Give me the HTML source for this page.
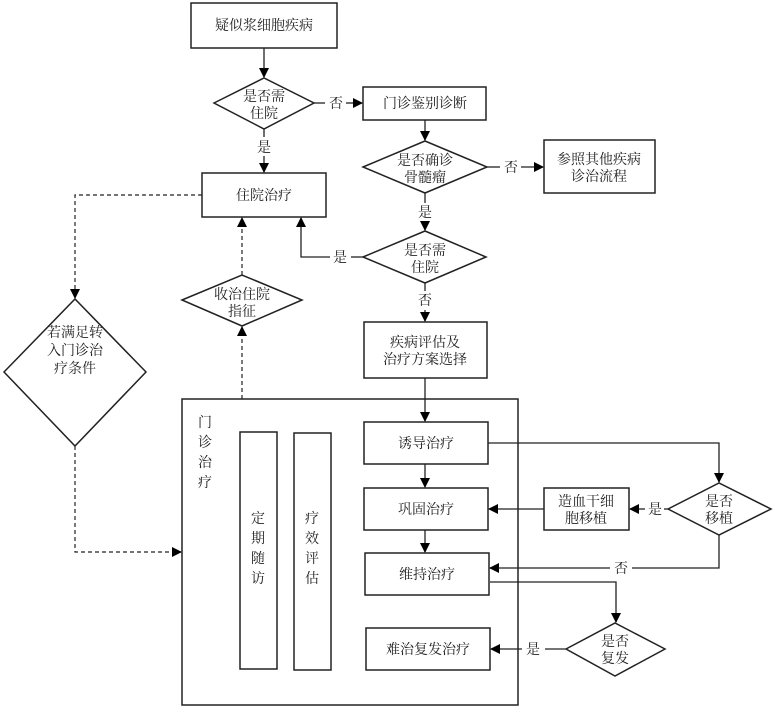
<!DOCTYPE html>
<html><head><meta charset="utf-8"><style>
html,body{margin:0;padding:0;background:#fff;}
svg text{font-family:"Liberation Serif","Noto Serif CJK SC","Noto Sans CJK SC",serif;font-size:14px;fill:#222;}
</style></head><body>
<svg width="775" height="709" viewBox="0 0 775 709" xmlns="http://www.w3.org/2000/svg">
<defs>
<marker id="a" markerWidth="10" markerHeight="10" refX="9" refY="5" orient="auto" markerUnits="userSpaceOnUse"><path d="M0,0 L10,5 L0,10 z" fill="#000"/></marker>
</defs>
<g fill="#fff" stroke="#222" stroke-width="1.5">
<rect x="191" y="3" width="146" height="45"/>
<polygon points="214,103 264,78 314,103 264,129"/>
<rect x="202" y="173" width="124" height="44"/>
<rect x="363" y="87" width="123" height="33"/>
<polygon points="363,167 425,141 487,167 425,193"/>
<rect x="544" y="140" width="111" height="53"/>
<polygon points="363,257 425,231 486,257 425,283"/>
<rect x="364" y="322" width="123" height="56"/>
<polygon points="4,372 75,299 146,372 75,446"/>
<polygon points="182,300 242,275 302,300 242,326"/>
<rect x="182" y="399" width="336" height="306"/>
<rect x="240" y="432" width="37" height="237"/>
<rect x="294" y="433" width="37" height="237"/>
<rect x="364" y="422" width="124" height="42"/>
<rect x="364" y="488" width="124" height="42"/>
<rect x="365" y="553" width="124" height="42"/>
<rect x="366" y="628" width="124" height="42"/>
<rect x="544" y="488" width="85" height="42"/>
<polygon points="668,509 719,483 771,509 719,535"/>
<polygon points="566,649 615,623 665,649 615,676"/>
</g>
<g fill="none" stroke="#222" stroke-width="1.3">
<line x1="264" y1="48" x2="264" y2="77" marker-end="url(#a)"/>
<line x1="264" y1="129" x2="264" y2="137"/>
<line x1="264" y1="156" x2="264" y2="172" marker-end="url(#a)"/>
<line x1="314" y1="103" x2="325" y2="103"/>
<line x1="346" y1="103" x2="362" y2="103" marker-end="url(#a)"/>
<line x1="425" y1="120" x2="425" y2="140" marker-end="url(#a)"/>
<line x1="487" y1="167" x2="500" y2="167"/>
<line x1="521" y1="167" x2="543" y2="167" marker-end="url(#a)"/>
<line x1="425" y1="193" x2="425" y2="203"/>
<line x1="425" y1="221" x2="425" y2="230" marker-end="url(#a)"/>
<polyline points="363,257 351,257"/>
<polyline points="330,257 301,257 301,218" marker-end="url(#a)"/>
<line x1="425" y1="283" x2="425" y2="291"/>
<line x1="425" y1="310" x2="425" y2="321" marker-end="url(#a)"/>
<line x1="425" y1="378" x2="425" y2="421" marker-end="url(#a)"/>
<line x1="425" y1="464" x2="425" y2="487" marker-end="url(#a)"/>
<line x1="425" y1="530" x2="425" y2="552" marker-end="url(#a)"/>
<polyline points="488,443 719,443 719,482" marker-end="url(#a)"/>
<line x1="668" y1="509" x2="664" y2="509"/>
<line x1="645" y1="509" x2="630" y2="509" marker-end="url(#a)"/>
<line x1="544" y1="509" x2="489" y2="509" marker-end="url(#a)"/>
<polyline points="719,535 719,568 632,568"/>
<line x1="610" y1="568" x2="490" y2="568" marker-end="url(#a)"/>
<polyline points="490,582 616,582 616,622" marker-end="url(#a)"/>
<line x1="566" y1="649" x2="545" y2="649"/>
<line x1="522" y1="649" x2="491" y2="649" marker-end="url(#a)"/>
</g>
<g fill="none" stroke="#222" stroke-width="1.2" stroke-dasharray="4,3">
<polyline points="202,195 75,195 75,298" marker-end="url(#a)"/>
<polyline points="75,446 75,552 181,552" marker-end="url(#a)"/>
<line x1="242" y1="399" x2="242" y2="327" marker-end="url(#a)"/>
<line x1="242" y1="275" x2="242" y2="218" marker-end="url(#a)"/>
</g>
<g text-anchor="middle">
<text x="264" y="30">疑似浆细胞疾病</text>
<text x="264" y="101">是否需</text><text x="264" y="118">住院</text>
<text x="264" y="152">是</text>
<text x="264" y="200">住院治疗</text>
<text x="336" y="108">否</text>
<text x="425" y="108">门诊鉴别诊断</text>
<text x="425" y="165">是否确诊</text><text x="425" y="182">骨髓瘤</text>
<text x="511" y="172">否</text>
<text x="599" y="164">参照其他疾病</text><text x="599" y="181">诊治流程</text>
<text x="425" y="217">是</text>
<text x="425" y="255">是否需</text><text x="425" y="272">住院</text>
<text x="340" y="262">是</text>
<text x="425" y="305">否</text>
<text x="425" y="347">疾病评估及</text><text x="425" y="364">治疗方案选择</text>
<text x="75" y="337">若满足转</text><text x="75" y="355">入门诊治</text><text x="75" y="373">疗条件</text>
<text x="242" y="299">收治住院</text><text x="242" y="316">指征</text>
<text x="205" y="427">门</text><text x="205" y="447">诊</text><text x="205" y="467">治</text><text x="205" y="487">疗</text>
<text x="258" y="523">定</text><text x="258" y="543">期</text><text x="258" y="563">随</text><text x="258" y="583">访</text>
<text x="312" y="523">疗</text><text x="312" y="543">效</text><text x="312" y="563">评</text><text x="312" y="583">估</text>
<text x="426" y="448">诱导治疗</text>
<text x="426" y="514">巩固治疗</text>
<text x="427" y="579">维持治疗</text>
<text x="428" y="654">难治复发治疗</text>
<text x="586" y="506">造血干细</text><text x="586" y="523">胞移植</text>
<text x="655" y="514">是</text>
<text x="719" y="506">是否</text><text x="719" y="523">移植</text>
<text x="621" y="573">否</text>
<text x="615" y="646">是否</text><text x="615" y="663">复发</text>
<text x="533" y="654">是</text>
</g>
</svg>
</body></html>
